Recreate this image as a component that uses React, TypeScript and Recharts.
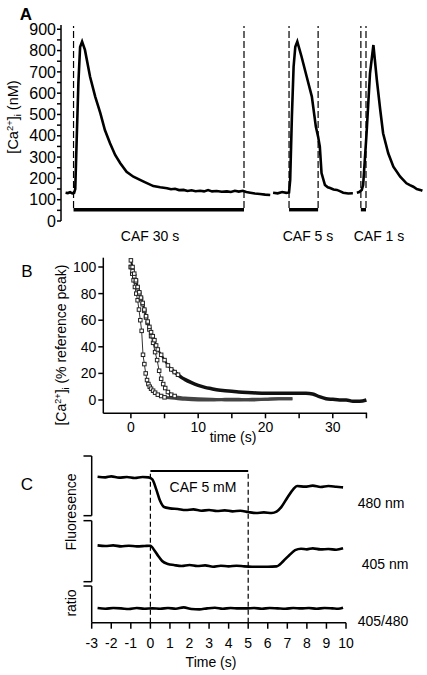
import React from 'react'
import { LineChart, Line, XAxis, YAxis, ReferenceLine, ReferenceArea } from 'recharts'

const FONT = '"Liberation Sans", Arial, Helvetica, sans-serif'

type Pt = { t: number; v: number }
const toPts = (rows: number[][]): Pt[] => rows.map(([t, v]) => ({ t, v }))

// ---------- Panel A: [Ca2+]i (nM) vs time (s), three caffeine applications
const caf30Trace = [
  [-1.4, 133], [-1.0, 131], [-0.6, 135], [-0.2, 130], [0.1, 132], [0.3, 150], [0.55, 380],
  [0.85, 648], [1.15, 817], [1.5, 842], [2.0, 803], [2.9, 677], [3.8, 584], [4.7, 506],
  [5.5, 427], [6.4, 365], [7.3, 310], [8.2, 271], [9.3, 231], [10.5, 208], [12.3, 185],
  [14.0, 164], [15.2, 158], [16.4, 154], [17.1, 149], [17.8, 151], [18.5, 145], [19.3, 146],
  [20.0, 141], [20.7, 144], [21.4, 140], [22.2, 142], [22.9, 139], [23.6, 145], [24.3, 139],
  [25.1, 141], [26.0, 137], [26.9, 139], [27.6, 136], [28.3, 142], [29.0, 138], [29.7, 142],
  [30.3, 136], [31.0, 133], [31.8, 129], [32.7, 127], [33.6, 124], [34.5, 122],
]
const caf5Trace = [
  [35.0, 133], [35.8, 130], [36.6, 136], [37.3, 132], [37.8, 134], [38.0, 192], [38.3, 490],
  [38.6, 724], [38.9, 818], [39.25, 842], [40.0, 771], [40.9, 677], [41.8, 584], [42.5, 443],
  [42.9, 396], [43.2, 349], [43.5, 225], [44.1, 169], [44.6, 158], [45.0, 155], [45.6, 148],
  [46.2, 146], [46.8, 139], [47.3, 133], [48.2, 129], [49.0, 130],
]
const caf1Trace = [
  [49.7, 133], [50.1, 136], [50.55, 146], [50.8, 169], [51.4, 412], [52.0, 693], [52.6, 826],
  [53.2, 662], [53.8, 521], [54.3, 412], [55.2, 318], [56.1, 255], [57.3, 208], [58.4, 177],
  [59.0, 168], [59.6, 161], [60.2, 150], [60.8, 146], [61.2, 142],
]
const cafStart = [0, 37.8, 50.4]
const cafEnd = [29.9, 42.9, 51.3]
const cafLabels = ['CAF 30 s', 'CAF 5 s', 'CAF 1 s']
const ticksA = [0, 50, 100, 150, 200, 250, 300, 350, 400, 450, 500, 550, 600, 650, 700, 750, 800, 850, 900]

// ---------- Panel B: normalised decay (% reference peak) vs time (s)
const slowDecay = [
  [0, 105], [0.25, 100], [0.5, 95], [0.75, 90], [1.0, 85], [1.25, 81], [1.5, 77], [1.75, 73],
  [2.0, 68], [2.25, 63], [2.5, 59], [2.75, 55], [3.0, 51], [3.25, 48], [3.5, 45], [3.75, 41],
  [4.0, 38], [4.5, 34], [5.0, 30], [5.5, 26], [6.0, 23], [6.5, 21], [7.0, 19], [7.5, 17],
  [8.0, 15.5], [9.0, 13], [10.0, 11], [11.0, 9.5], [12.0, 8.5], [13.0, 7.5], [14.0, 7],
  [15.0, 6.5], [16.0, 6], [18.0, 5.5], [20.0, 5], [22.0, 5], [24.0, 5], [26.0, 5], [27.0, 4.5],
  [28.0, 2.5], [29.0, 1], [30.0, 0.5], [31.0, 0], [32.0, 0], [33.0, -1], [34.0, -1], [35.0, 0],
]
const midDecay = [
  [0, 100], [0.25, 97], [0.5, 93], [0.75, 89], [1.0, 84], [1.25, 80], [1.5, 76], [1.75, 72],
  [2.0, 67], [2.25, 62], [2.5, 58], [2.75, 53], [3.0, 48], [3.3, 43], [3.6, 36], [3.9, 30],
  [4.2, 22], [4.5, 16], [4.8, 12], [5.1, 9], [5.5, 6], [6.0, 4], [6.5, 3], [7.0, 2], [8.0, 1.5],
  [10.0, 1], [12.0, 0.5], [14.0, 0], [16.0, 0], [18.0, 0.5], [20.0, 0.5], [22.0, 1], [24.0, 1],
]
const fastDecay = [
  [0, 100], [0.2, 95], [0.4, 90], [0.6, 85], [0.8, 80], [1.0, 75], [1.2, 68], [1.4, 60],
  [1.6, 52], [1.8, 34], [2.0, 27], [2.2, 20], [2.4, 15], [2.6, 12], [2.8, 10], [3.0, 8.5],
  [3.3, 7], [3.6, 5.5], [4.0, 4], [4.5, 3], [5.0, 2], [6.0, 1.5], [7.0, 1], [8.0, 0.5],
  [10.0, 0], [12.0, 0], [14.0, 0.5], [16.0, 0.5], [18.0, 0], [20.0, 0.5], [22.0, 1], [24.0, 1],
]
const ticksBx = [0, 5, 10, 15, 20, 25, 30, 35]
const ticksBy = [0, 20, 40, 60, 80, 100]

// ---------- Panel C: fluorescence at 480 / 405 nm and ratio (arb. units)
const f480 = [
  [-2.7, 87.6], [-2.3, 87.2], [-2.0, 87.8], [-1.6, 87.0], [-1.2, 87.4], [-0.8, 86.8], [-0.4, 87.4],
  [-0.1, 87.2], [0.1, 86.0], [0.3, 80], [0.5, 73], [0.7, 69.4], [1.0, 68.6], [1.4, 68.2],
  [1.8, 67.6], [2.2, 68.0], [2.6, 67.2], [3.0, 67.6], [3.4, 67.0], [3.8, 67.4], [4.2, 66.8],
  [4.6, 67.2], [5.0, 66.4], [5.4, 65.8], [5.8, 66.2], [6.2, 65.8], [6.45, 66.6], [6.7, 69.5],
  [7.0, 75], [7.3, 80], [7.5, 82], [7.9, 81.6], [8.3, 82.2], [8.7, 81.4], [9.1, 82.0],
  [9.5, 81.6], [9.85, 81.2],
]
const f405 = [
  [-2.7, 46.4], [-2.3, 46.0], [-1.9, 46.4], [-1.5, 45.8], [-1.1, 46.2], [-0.7, 45.8], [-0.3, 46.0],
  [0.0, 46.2], [0.2, 43.5], [0.4, 40], [0.6, 37], [0.9, 35.2], [1.2, 34.6], [1.6, 34.0],
  [2.0, 34.6], [2.4, 34.0], [2.8, 34.4], [3.2, 33.6], [3.6, 34.2], [4.0, 33.8], [4.4, 34.2],
  [4.8, 33.8], [5.2, 33.6], [5.6, 33.6], [6.0, 33.6], [6.45, 33.8], [6.8, 37], [7.1, 40.5],
  [7.4, 43.5], [7.7, 44.4], [8.0, 44.0], [8.3, 44.6], [8.7, 44.0], [9.1, 44.2], [9.5, 43.8],
  [9.85, 44.6],
]
const ratio405480 = [
  [-2.7, 8.8], [-2.3, 8.4], [-1.9, 8.8], [-1.5, 8.6], [-1.1, 8.2], [-0.7, 8.8], [-0.3, 8.4],
  [0.1, 8.6], [0.5, 8.4], [0.9, 8.8], [1.3, 8.4], [1.7, 9.2], [2.1, 8.2], [2.5, 8.0], [2.9, 8.6],
  [3.3, 9.0], [3.7, 8.4], [4.1, 8.8], [4.5, 8.6], [4.9, 8.6], [5.3, 8.8], [5.7, 8.4], [6.1, 8.8],
  [6.5, 8.6], [6.9, 8.4], [7.3, 8.8], [7.7, 8.6], [8.1, 8.8], [8.5, 8.4], [8.9, 8.8], [9.3, 8.6],
  [9.6, 8.4], [9.85, 9.0],
]
const cafC = [0, 5]
const ticksCx = [-3, -2, -1, 0, 1, 2, 3, 4, 5, 6, 7, 8, 9, 10]
const bracketTop = [100, 61.2, 22.0]
const bracketBottom = [64.2, 24.6, 0]

const axisStroke = { stroke: '#000', strokeWidth: 1.5 }
const tickStyle = (size: number) => ({ fill: '#000', fontSize: size, fontFamily: FONT })

const squareDot = (size: number, maxT: number) => (props: any) => {
  const { cx, cy, index, payload } = props
  if (cx == null || cy == null || payload.t > maxT) return <g key={`e-${index}`} />
  return (
    <rect key={`sq-${index}`} x={cx - size / 2} y={cy - size / 2} width={size} height={size}
      fill="#fff" stroke="#222" strokeWidth={1} />
  )
}

const Label = ({ x, y, children, rotate, size = 14, weight = 'normal' }: any) => (
  <div style={{
    position: 'absolute', left: x, top: y, whiteSpace: 'nowrap', fontSize: size, fontWeight: weight,
    fontFamily: FONT, color: '#000', lineHeight: 1,
    transform: `translate(-50%, -50%)${rotate ? ' rotate(-90deg)' : ''}`,
  }}>{children}</div>
)

const Ca = () => (
  <span>[Ca<sup style={{ fontSize: '0.65em', verticalAlign: '0.55em', lineHeight: 0 }}>2+</sup>]<sub style={{ fontSize: '0.65em', verticalAlign: '-0.3em', lineHeight: 0 }}>i</sub></span>
)

export default function App() {
  const segA = [caf30Trace, caf5Trace, caf1Trace].map(toPts)
  const slow = toPts(slowDecay)
  const mid = toPts(midDecay)
  const fast = toPts(fastDecay)

  return (
    <div style={{ position: 'absolute', left: 0, top: 0, width: 427, height: 675, background: '#fff', fontFamily: FONT }}>
      {/* Panel A */}
      <div style={{ position: 'absolute', left: 0, top: 0 }}>
        <LineChart width={427} height={245} margin={{ top: 25, right: 0, bottom: 24, left: 0 }}>
          <XAxis type="number" dataKey="t" domain={[-2.2, 62]} hide allowDataOverflow />
          <YAxis type="number" domain={[0, 920]} ticks={ticksA} interval={0} width={61} tickSize={4} tickMargin={1}
            tickFormatter={(v: number) => (v % 100 === 0 ? String(v) : '')}
            axisLine={axisStroke} tickLine={axisStroke} tick={tickStyle(16)} allowDataOverflow />
          {cafStart.map((s, i) => (
            <ReferenceArea key={`bar-${i}`} x1={s} x2={cafEnd[i]} y1={45} y2={61} fill="#000" fillOpacity={1} stroke="none" />
          ))}
          {[...cafStart, ...cafEnd].map((s, i) => (
            <ReferenceLine key={`dash-${i}`} segment={[{ x: s, y: 61 }, { x: s, y: 915 }]} stroke="#000" strokeWidth={1.2} strokeDasharray="7 3" />
          ))}
          {segA.map((d, i) => (
            <Line key={`a-${i}`} data={d} dataKey="v" type="linear" stroke="#000" strokeWidth={2.6} dot={false} isAnimationActive={false} />
          ))}
        </LineChart>
      </div>
      <Label x={26} y={14} size={17} weight="bold">A</Label>
      <Label x={13} y={117} rotate size={14.5}><Ca /> (nM)</Label>
      {cafLabels.map((l, i) => (
        <Label key={l} x={[150, 308, 379][i]} y={236}>{l}</Label>
      ))}

      {/* Panel B */}
      <div style={{ position: 'absolute', left: 0, top: 250 }}>
        <LineChart width={427} height={200} margin={{ top: 7.7, right: 59.9, bottom: 6.7, left: 0 }}>
          <XAxis type="number" dataKey="t" domain={[-4.1, 35.1]} ticks={ticksBx} interval={0} height={30}
            tickSize={5} tickMargin={4} tickFormatter={(v: number) => (v % 10 === 0 ? String(v) : '')}
            axisLine={axisStroke} tickLine={axisStroke} tick={tickStyle(14)} allowDataOverflow />
          <YAxis type="number" domain={[-10, 107]} ticks={ticksBy} interval={0} width={103.3} tickSize={5} tickMargin={2}
            axisLine={axisStroke} tickLine={axisStroke} tick={tickStyle(14)} allowDataOverflow />
          <Line data={slow.filter(p => p.t >= 6)} dataKey="v" type="monotone" stroke="#111" strokeWidth={3.5} dot={false} isAnimationActive={false} />
          <Line data={mid.filter(p => p.t >= 5.5)} dataKey="v" type="monotone" stroke="#444" strokeWidth={3} dot={false} isAnimationActive={false} />
          <Line data={fast.filter(p => p.t >= 4)} dataKey="v" type="monotone" stroke="#444" strokeWidth={3} dot={false} isAnimationActive={false} />
          <Line data={fast.filter(p => p.t <= 5)} dataKey="v" type="linear" stroke="#333" strokeWidth={1} dot={squareDot(3.5, 5)} isAnimationActive={false} />
          <Line data={mid.filter(p => p.t <= 6.5)} dataKey="v" type="linear" stroke="#333" strokeWidth={1} dot={squareDot(3.5, 6.5)} isAnimationActive={false} />
          <Line data={slow.filter(p => p.t <= 7)} dataKey="v" type="linear" stroke="#111" strokeWidth={2} dot={squareDot(3.5, 7)} isAnimationActive={false} />
        </LineChart>
      </div>
      <Label x={27} y={271} size={17}>B</Label>
      <Label x={61} y={345} rotate><Ca /> (% reference peak)</Label>
      <Label x={233} y={437}>time (s)</Label>

      {/* Panel C */}
      <div style={{ position: 'absolute', left: 0, top: 440 }}>
        <LineChart width={427} height={235} margin={{ top: 16, right: 81, bottom: 22.3, left: 91.7 }}>
          <XAxis type="number" dataKey="t" domain={[-3, 10]} ticks={ticksCx} interval={0} height={30}
            tickSize={6} tickMargin={9} axisLine={axisStroke} tickLine={axisStroke} tick={tickStyle(14)} allowDataOverflow />
          <YAxis type="number" domain={[0, 100]} hide allowDataOverflow />
          {bracketTop.map((top, i) => (
            <ReferenceLine key={`br-${i}`} segment={[{ x: -3, y: top }, { x: -3, y: bracketBottom[i] }]} stroke="#000" strokeWidth={1.5} ifOverflow="visible" />
          ))}
          {bracketTop.map((top, i) => (
            <ReferenceLine key={`cap-t-${i}`} segment={[{ x: -3.42, y: top }, { x: -3, y: top }]} stroke="#000" strokeWidth={1.5} ifOverflow="visible" />
          ))}
          {bracketBottom.slice(0, 2).map((b, i) => (
            <ReferenceLine key={`cap-b-${i}`} segment={[{ x: -3.42, y: b }, { x: -3, y: b }]} stroke="#000" strokeWidth={1.5} ifOverflow="visible" />
          ))}
          <ReferenceLine segment={[{ x: cafC[0], y: 91 }, { x: cafC[1], y: 91 }]} stroke="#000" strokeWidth={2} />
          {cafC.map((s, i) => (
            <ReferenceLine key={`cd-${i}`} segment={[{ x: s, y: 0 }, { x: s, y: 91 }]} stroke="#000" strokeWidth={1.2} strokeDasharray="5 3" />
          ))}
          <Line data={toPts(f480)} dataKey="v" type="monotone" stroke="#000" strokeWidth={2.6} dot={false} isAnimationActive={false} />
          <Line data={toPts(f405)} dataKey="v" type="monotone" stroke="#000" strokeWidth={2.6} dot={false} isAnimationActive={false} />
          <Line data={toPts(ratio405480)} dataKey="v" type="monotone" stroke="#000" strokeWidth={2.6} dot={false} isAnimationActive={false} />
        </LineChart>
      </div>
      <Label x={27} y={484} size={17}>C</Label>
      <Label x={71} y={512} rotate>Fluoresence</Label>
      <Label x={71} y={603} rotate>ratio</Label>
      <Label x={203} y={487}>CAF 5 mM</Label>
      <Label x={381} y={503}>480 nm</Label>
      <Label x={385} y={564}>405 nm</Label>
      <Label x={383} y={621}>405/480</Label>
      <Label x={211} y={662}>Time (s)</Label>
    </div>
  )
}
